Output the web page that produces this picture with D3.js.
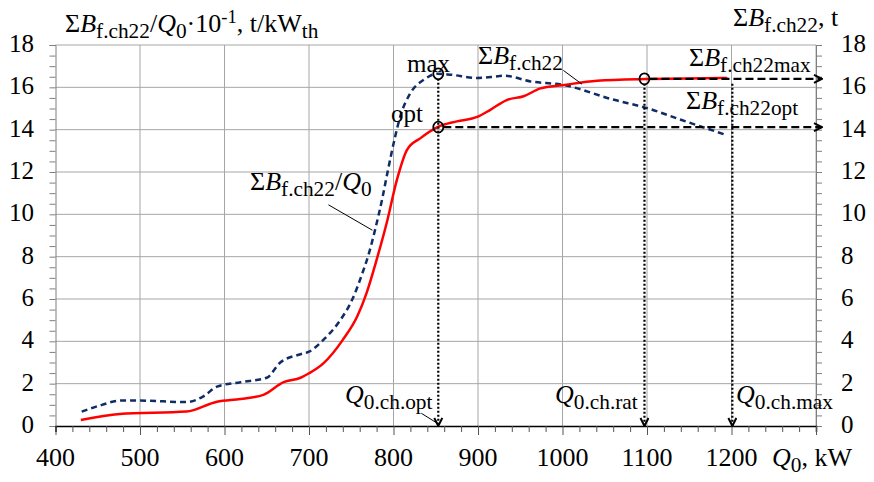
<!DOCTYPE html>
<html>
<head>
<meta charset="utf-8">
<script src="https://cdn.jsdelivr.net/npm/d3@7"></script>
<style>
  body { margin: 0; background: #fff; }
  text { font-family: "Liberation Serif", "Times New Roman", serif; fill: #000; }
</style>
</head>
<body>
<div id="chart"></div>
<script>
// Q0 (kW) and cumulative fuel ΣB (t), red solid line, right axis
const q0Sum = [430, 476, 555, 591, 619, 646, 670, 690, 700, 717, 740, 757, 768, 780, 792, 804, 816, 832, 852, 875, 899, 915, 934, 954, 974, 1000, 1041, 1100, 1150, 1195];
const sumB  = [0.28, 0.57, 0.68, 1.15, 1.28, 1.47, 2.07, 2.28, 2.49, 2.96, 4.07, 5.17, 6.27, 7.85, 9.6, 11.63, 13.05, 13.6, 14.12, 14.39, 14.6, 14.95, 15.4, 15.58, 15.95, 16.1, 16.31, 16.39, 16.42, 16.44];

// Q0 (kW) and specific ΣB/Q0·10^-1, blue dashed line, left axis
const q0Ratio = [431, 455, 476, 500, 555, 575, 591, 619, 650, 666, 690, 700, 717, 737, 751, 763, 771, 779, 787, 793, 802, 808, 820, 836, 852, 867, 899, 923, 931, 962, 1000, 1061, 1100, 1140, 1193];
const ratio   = [0.68, 1.0, 1.2, 1.2, 1.13, 1.4, 1.86, 2.07, 2.28, 3.0, 3.39, 3.51, 4.07, 5.0, 5.96, 7.2, 8.17, 9.4, 10.8, 12.0, 13.68, 14.62, 15.73, 16.36, 16.64, 16.6, 16.44, 16.52, 16.55, 16.28, 16.12, 15.41, 15.02, 14.47, 13.76];

const xTicks = [400, 500, 600, 700, 800, 900, 1000, 1100, 1200];
const yTicks = [0, 2, 4, 6, 8, 10, 12, 14, 16, 18];

// characteristic points
const qOpt = 853, qRat = 1097, qMax = 1201;
const bMax = 16.4, bOpt = 14.12, rMax = 16.64;

const width = 874, height = 482;
const margin = { top: 45, right: 58, bottom: 56, left: 55.5 };

const svg = d3.select('#chart').append('svg')
  .attr('width', width).attr('height', height);

const x = d3.scaleLinear().domain([400, 1300]).range([margin.left, width - margin.right]);
const yL = d3.scaleLinear().domain([0, 18]).range([height - margin.bottom, margin.top]);
const yR = d3.scaleLinear().domain([0, 18]).range([height - margin.bottom, margin.top]);

const x0 = x.range()[0], x1 = x.range()[1];
const y0 = yL.range()[0], y1 = yL.range()[1];

// grid
const grid = svg.append('g').attr('stroke', '#a6a6a6').attr('stroke-width', 1);
grid.selectAll('.vg').data(d3.range(500, 1301, 100)).join('line')
  .attr('x1', d => x(d)).attr('x2', d => x(d)).attr('y1', y0).attr('y2', y1);
grid.selectAll('.hg').data(yTicks.slice(1)).join('line')
  .attr('x1', x0).attr('x2', x1).attr('y1', d => yL(d)).attr('y2', d => yL(d));

// axes
const yAxisL = d3.axisLeft(yL).tickValues(d3.range(0, 18.01, 0.5)).tickSize(6).tickFormat('');
const yAxisR = d3.axisRight(yR).tickValues(d3.range(0, 18.01, 0.5)).tickSize(6).tickFormat('');
const xAxis = d3.axisBottom(x).tickValues(d3.range(400, 1301, 20)).tickSize(6).tickFormat('');

svg.append('g').attr('transform', `translate(${x0},0)`).call(yAxisL)
  .call(g => g.selectAll('line,path').attr('stroke', '#7f7f7f'));
svg.append('g').attr('transform', `translate(${x1},0)`).call(yAxisR)
  .call(g => g.selectAll('line,path').attr('stroke', '#7f7f7f'));
svg.append('g').attr('transform', `translate(0,${y0})`).call(xAxis)
  .call(g => g.select('.domain').attr('stroke', '#000').attr('stroke-width', 1.5))
  .call(g => g.selectAll('.tick line').attr('stroke', '#555')
    .attr('y2', d => d % 100 === 0 ? 9 : 6));

// tick labels
svg.append('g').selectAll('text').data(yTicks).join('text')
  .attr('x', 34).attr('y', d => yL(d) + 7).attr('text-anchor', 'end')
  .attr('font-size', 25).text(d => d);
svg.append('g').selectAll('text').data(yTicks).join('text')
  .attr('x', 841).attr('y', d => yR(d) + 7).attr('text-anchor', 'start')
  .attr('font-size', 25).text(d => d);
svg.append('g').selectAll('text').data(xTicks).join('text')
  .attr('x', d => x(d)).attr('y', 466).attr('text-anchor', 'middle')
  .attr('font-size', 26).text(d => d);

// rich text helper: parts [{t, i, sub, sup}]
function rich(sx, sy, parts, size) {
  const t = svg.append('text').attr('x', sx).attr('y', sy).attr('font-size', size);
  let off = 0;
  parts.forEach(p => {
    const ts = t.append('tspan').text(p.t);
    let target = 0, s = size;
    if (p.sub) { target = size * 0.24; s = size * 0.82; }
    if (p.sup) { target = -size * 0.36; s = size * 0.72; }
    ts.attr('dy', target - off).attr('font-size', s);
    if (p.i) ts.attr('font-style', 'italic');
    off = target;
  });
  return t;
}

const ts = 26;
rich(65, 32, [{ t: 'Σ' }, { t: 'B', i: true }, { t: 'f.ch22', sub: true }, { t: '/' }, { t: 'Q', i: true },
  { t: '0', sub: true }, { t: '·10' }, { t: '-1', sup: true }, { t: ', t/kW' }, { t: 'th', sub: true }], ts);
rich(733, 26, [{ t: 'Σ' }, { t: 'B', i: true }, { t: 'f.ch22', sub: true }, { t: ', t' }], ts);
rich(772, 466, [{ t: 'Q', i: true }, { t: '0', sub: true }, { t: ', kW' }], ts);

// curves
const line = d3.line().curve(d3.curveMonotoneX);
svg.append('path')
  .attr('d', line(q0Ratio.map((q, i) => [x(q), yL(ratio[i])])))
  .attr('fill', 'none').attr('stroke', '#0f2c66').attr('stroke-width', 2.5)
  .attr('stroke-dasharray', '6,4');
svg.append('path')
  .attr('d', line(q0Sum.map((q, i) => [x(q), yR(sumB[i])])))
  .attr('fill', 'none').attr('stroke', '#ff0000').attr('stroke-width', 2.5);

// arrow marker
svg.append('defs').append('marker')
  .attr('id', 'arr').attr('viewBox', '0 0 10 10').attr('refX', 9).attr('refY', 5)
  .attr('markerWidth', 10).attr('markerHeight', 10).attr('markerUnits', 'userSpaceOnUse')
  .attr('orient', 'auto')
  .append('path').attr('d', 'M1,1 L9,5 L1,9').attr('fill', 'none')
  .attr('stroke', '#000').attr('stroke-width', 2);

const ann = svg.append('g').attr('stroke', '#000').attr('fill', 'none');
// dotted verticals
[[qOpt, rMax], [qRat, bMax], [qMax, bMax]].forEach(([q, v]) => {
  ann.append('line').attr('x1', x(q)).attr('x2', x(q)).attr('y1', yL(v) + 5).attr('y2', y0)
    .attr('stroke-width', 2.2).attr('stroke-dasharray', '2,2').attr('marker-end', 'url(#arr)');
});
// dashed horizontals
ann.append('line').attr('x1', x(qRat) + 5).attr('x2', x1 + 6).attr('y1', yR(bMax)).attr('y2', yR(bMax))
  .attr('stroke-width', 2.4).attr('stroke-dasharray', '8,4').attr('marker-end', 'url(#arr)');
ann.append('line').attr('x1', x(qOpt) + 5).attr('x2', x1 + 6).attr('y1', yR(bOpt)).attr('y2', yR(bOpt))
  .attr('stroke-width', 2.4).attr('stroke-dasharray', '8,4').attr('marker-end', 'url(#arr)');
// circles
[[qOpt, rMax], [qOpt, bOpt], [qRat, bMax]].forEach(([q, v]) => {
  ann.append('ellipse').attr('cx', x(q)).attr('cy', yL(v)).attr('rx', 5).attr('ry', 5.5)
    .attr('stroke-width', 1.8);
});
// leader lines
ann.append('line').attr('stroke-width', 1)
  .attr('x1', x(1001)).attr('y1', yR(16.8)).attr('x2', x(1023)).attr('y2', yR(16.15));
ann.append('line').attr('stroke-width', 1)
  .attr('x1', x(723)).attr('y1', yL(10.45)).attr('x2', x(775)).attr('y2', yL(9.25));
ann.append('line').attr('stroke-width', 1)
  .attr('x1', x(833)).attr('y1', yL(0.6)).attr('x2', x(853)).attr('y2', yL(0.1));

// annotation labels
rich(407, 72, [{ t: 'max' }], 25);
rich(391, 122, [{ t: 'opt' }], 25);
rich(478, 64, [{ t: 'Σ' }, { t: 'B', i: true }, { t: 'f.ch22', sub: true }], ts);
rich(689, 66, [{ t: 'Σ' }, { t: 'B', i: true }, { t: 'f.ch22max', sub: true }], ts);
rich(686, 109, [{ t: 'Σ' }, { t: 'B', i: true }, { t: 'f.ch22opt', sub: true }], ts);
rich(250, 190, [{ t: 'Σ' }, { t: 'B', i: true }, { t: 'f.ch22', sub: true }, { t: '/' }, { t: 'Q', i: true }, { t: '0', sub: true }], ts);
rich(345, 403, [{ t: 'Q', i: true }, { t: '0.ch.opt', sub: true }], ts);
rich(555, 403, [{ t: 'Q', i: true }, { t: '0.ch.rat', sub: true }], ts);
rich(736, 403, [{ t: 'Q', i: true }, { t: '0.ch.max', sub: true }], ts);
</script>
</body>
</html>
